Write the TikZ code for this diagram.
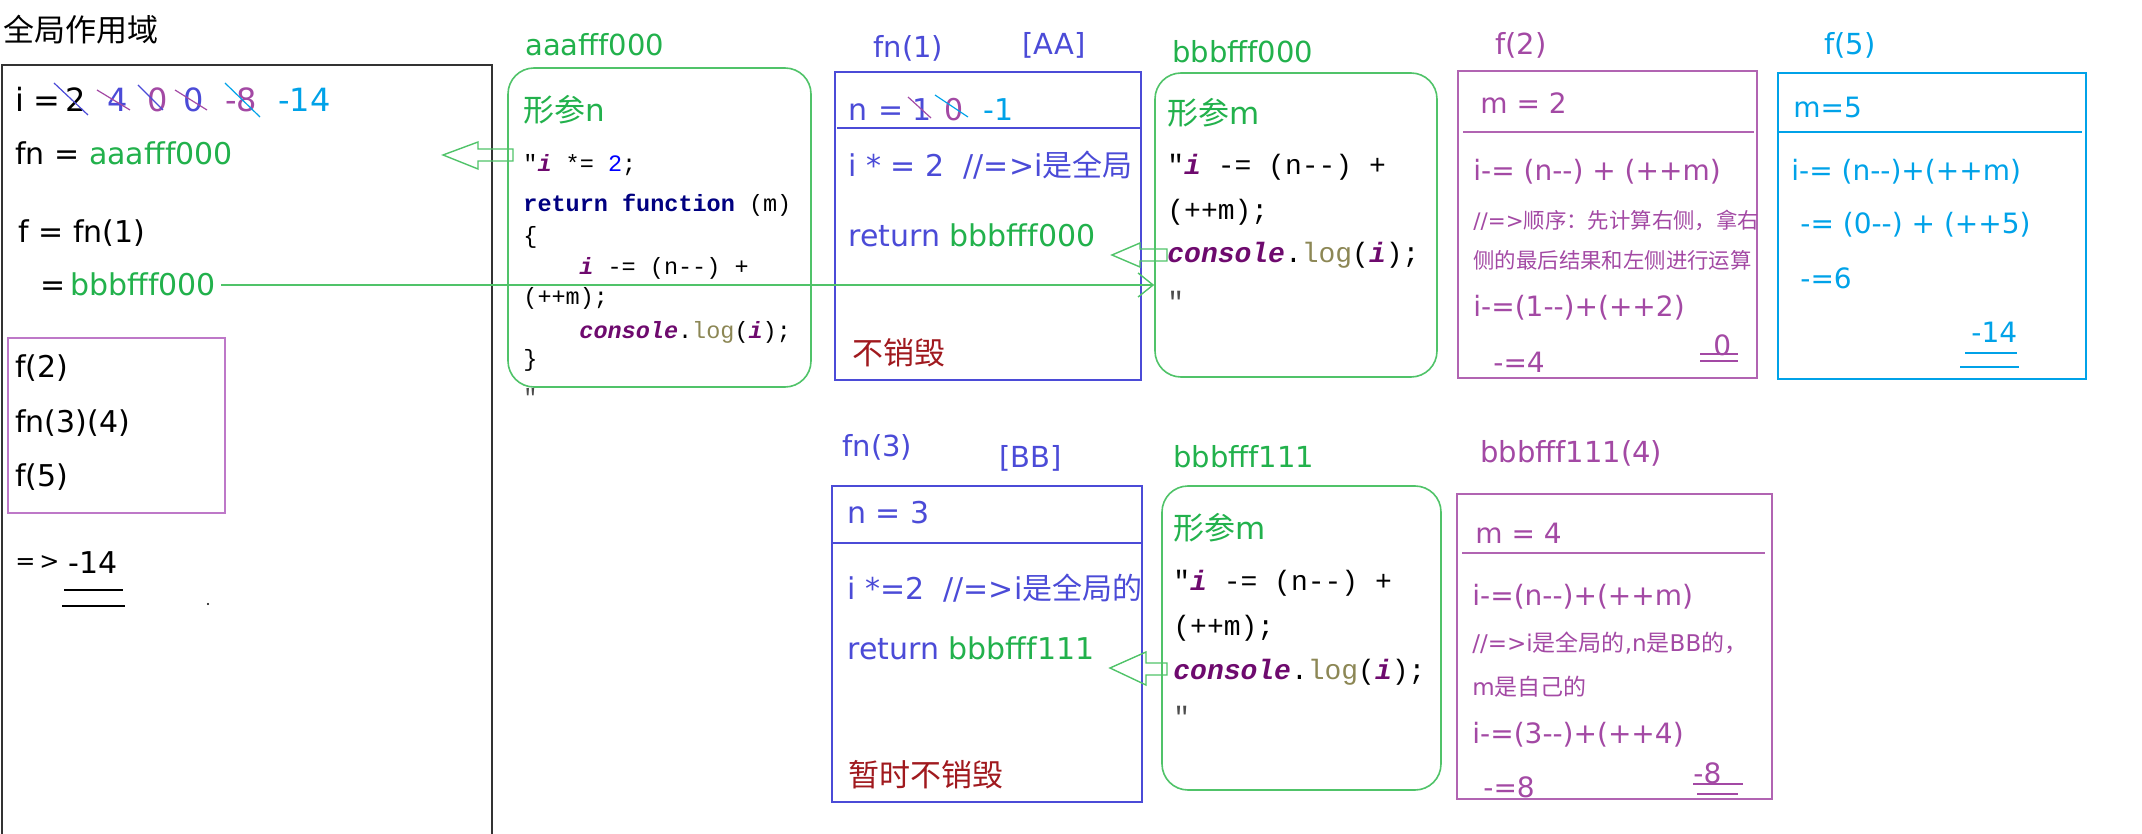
\documentclass[tikz,border=0pt]{standalone}
\usepackage{fontspec}
\setmainfont{DejaVu Sans}
\newfontfamily\cjkf{Noto Sans CJK SC}
\newfontfamily\codef{Liberation Mono}
\usetikzlibrary{arrows.meta,fit}
\definecolor{gr}{RGB}{34,177,76}
\definecolor{grl}{RGB}{80,195,105}
\definecolor{bl}{RGB}{75,75,215}
\definecolor{pu}{RGB}{163,73,164}
\definecolor{pul}{RGB}{190,120,200}
\definecolor{cy}{RGB}{0,162,232}
\definecolor{dr}{RGB}{160,25,30}
\definecolor{kw}{RGB}{0,0,128}
\definecolor{vr}{RGB}{110,10,110}
\definecolor{ol}{RGB}{140,135,85}
\definecolor{cdblue}{RGB}{0,0,255}
\newcommand\C[1]{{\cjkf #1}}
\newcommand\fsz[1]{\fontsize{#1}{#1}\selectfont}
\newcommand\kv{\textbf{\textit{\color{vr}i}}}
\newcommand\kcon{\textbf{\textit{\color{vr}console}}}
\newcommand\klog{{\color{ol}log}}
\begin{document}
\begin{tikzpicture}[x=0.5pt,y=-0.5pt,
  tx/.style={anchor=west,inner sep=0pt,font=\fsz{15pt}},
  tl/.style={anchor=west,inner sep=0pt,font=\fsz{14.5pt}},
  tb/.style={anchor=west,inner sep=0pt,font=\fsz{14pt}},
  tc/.style={anchor=west,inner sep=0pt,font=\fsz{10.7pt}},
  tcc/.style={anchor=west,inner sep=0pt,font=\fsz{11.5pt}},
  tk/.style={anchor=west,inner sep=0pt,font=\fsz{15.5pt}},
  row/.style={anchor=base west,inner sep=0pt,font=\fsz{16pt}},
  rowb/.style={anchor=base west,inner sep=0pt,font=\fsz{15pt}},
  cs/.style={anchor=west,inner sep=0pt,font=\codef\fsz{11.75pt}},
  cb/.style={anchor=west,inner sep=0pt,font=\codef\fsz{14pt}},
  boxline/.style={draw,line width=1pt,inner sep=0pt},
  rbox/.style={draw=grl,line width=0.8pt,rounded corners=13pt,inner sep=0pt},
  strk/.style={line width=0.6pt},
  dbl/.style={line width=0.8pt},
  hollow/.style={draw=grl,line width=0.7pt},
  link/.style={draw=grl,line width=0.7pt,-{Straight Barb[length=7.5pt,width=12pt]}}
]
\useasboundingbox (0,0) rectangle (2142,834);

% ---------- global scope ----------
\node[tk] (title) at (3,30) {\C{全局作用域}};
\draw[line width=1pt,black!80] (1.5,834) -- (1.5,65) -- (492,65) -- (492,834);

\node[row] (iname) at (15,112) {i};
\node[row] (ieq) at (33,112) {=};
\node[row] (v2) at (65,112) {2};
\node[row,text=bl] (v4) at (107,112) {4};
\node[row,text=pu] (v0a) at (147,112) {0};
\node[row,text=bl] (v0b) at (183,112) {0};
\node[row,text=pu] (v8) at (225,112) {-8};
\node[row,text=cy] (v14) at (278,112) {-14};
\draw[bl,strk] (54,83) -- (88,115);
\draw[pu,strk] (97,90) -- (130,110);
\draw[bl,strk] (138,85) -- (163,110);
\draw[pu,strk] (175,90) -- (207,110);
\draw[cy,strk] (225,83) -- (260,117);

\node[tx] (fnline) at (15,153) {fn = {\color{gr}aaafff000}};
\node[tx] (fline) at (18,233) {f = fn(1)};
\node[rowb] (feq) at (40,296) {=};
\node[rowb,text=gr] (bbbval) at (70,296) {bbbfff000};

\node[boxline,draw=pul,line width=0.8pt,fit={(8,338) (225,513)}] (callbox) {};
\node[tx] (c1) at (15,368) {f(2)};
\node[tx] (c2) at (15,423) {fn(3)(4)};
\node[tx] (c3) at (15,477) {f(5)};

\node[tx,font=\fsz{12pt}] (arrowres) at (15,563) {=\,>};
\node[tx] (res) at (68,563) {-14};
\draw[dbl] (64,590) -- (123,590);
\draw[dbl] (62,606) -- (125,606);
\fill (208,604) circle (1.2);

% ---------- aaafff000 heap ----------
\node[tl,text=gr] (aaalbl) at (525,45) {aaafff000};
\node[rbox,fit={(508,68) (811,387)}] (aaabox) {};
\node[tk,text=gr] (aaapar) at (523,110) {\C{形参}n};
\node[cs] (a1) at (523,165) {"\kv{} *= {\color{cdblue}2};};
\node[cs] (a2) at (523,205) {\textbf{\color{kw}return function} (m)};
\node[cs] (a3) at (523,237) {\{};
\node[cs] (a4) at (579,268) {\kv{} -= (n-{}-) +};
\node[cs] (a5) at (523,298) {(++m);};
\node[cs] (a6) at (579,332) {\kcon.\klog(\kv);};
\node[cs] (a7) at (523,360) {\}};
\node[cs,text=black!70] (a8) at (523,397) {"};

% ---------- fn(1) [AA] ----------
\node[tl,text=bl] (fn1lbl) at (873,48) {fn(1)};
\node[tl,text=bl] (aalbl) at (1022,45) {[AA]};
\node[boxline,draw=bl,fit={(835,72) (1141,380)}] (fn1box) {};
\draw[bl,line width=1pt] (837,128) -- (1141,128);
\node[rowb,text=bl] (n1name) at (848,121) {n};
\node[rowb,text=bl] (n1eq) at (878,121) {=};
\node[rowb,text=bl] (n1a) at (912,121) {1};
\node[rowb,text=pu] (n1b) at (944,121) {0};
\node[rowb,text=cy] (n1c) at (983,121) {-1};
\draw[pu,strk] (908,97) -- (931,118);
\draw[cy,strk] (935,95) -- (968,117);
\node[tx,text=bl] (fn1l1) at (848,165) {i * = 2~~//=>i\C{是全局}};
\node[tx,text=bl] (fn1l2) at (848,235) {return {\color{gr}bbbfff000}};
\node[tk,text=dr] (fn1l3) at (852,353) {\C{不销毁}};

% ---------- bbbfff000 heap ----------
\node[tl,text=gr] (bbb0lbl) at (1172,52) {bbbfff000};
\node[rbox,fit={(1155,73) (1437,377)}] (bbb0box) {};
\node[tk,text=gr] (bbb0par) at (1167,113) {\C{形参}m};
\node[cb] (b1) at (1167,167) {"\kv{} -= (n-{}-) +};
\node[cb] (b2) at (1167,212) {(++m);};
\node[cb] (b3) at (1167,255) {\kcon.\klog(\kv);};
\node[cb,text=black!70] (b4) at (1167,301) {"};

% ---------- f(2) ----------
\node[tl,text=pu] (f2lbl) at (1495,45) {f(2)};
\node[boxline,draw=pu!85,fit={(1458,71) (1757,378)}] (f2box) {};
\draw[pu!85,line width=1pt] (1463,132) -- (1754,132);
\node[tb,text=pu] (f2a) at (1480,103) {m = 2};
\node[tb,text=pu] (f2b) at (1473,172) {i-= (n-{}-) + (++m)};
\node[tc,text=pu] (f2c) at (1473,220) {//=>\C{顺序：先计算右侧，拿右}};
\node[tc,text=pu] (f2d) at (1473,260) {\C{侧的最后结果和左侧进行运算}};
\node[tb,text=pu] (f2e) at (1473,308) {i-=(1-{}-)+(++2)};
\node[tb,text=pu] (f2f) at (1493,362) {-=4};
\node[tb,text=pu] (f2g) at (1713,345) {0};
\draw[pu,dbl] (1700,354) -- (1738,354);
\draw[pu,dbl] (1700,361) -- (1738,361);

% ---------- f(5) ----------
\node[tl,text=cy] (f5lbl) at (1824,45) {f(5)};
\node[boxline,draw=cy,fit={(1778,73) (2086,379)}] (f5box) {};
\draw[cy,line width=1pt] (1778,132) -- (2082,132);
\node[tb,text=cy] (f5a) at (1793,107) {m=5};
\node[tb,text=cy] (f5b) at (1791,172) {i-= (n-{}-)+(++m)};
\node[tb,text=cy] (f5c) at (1800,225) {-= (0-{}-) + (++5)};
\node[tb,text=cy] (f5d) at (1800,278) {-=6};
\node[tb,text=cy] (f5e) at (1971,332) {-14};
\draw[cy,dbl] (1965,353) -- (2017,353);
\draw[cy,dbl] (1960,367) -- (2019,367);

% ---------- fn(3) [BB] ----------
\node[tl,text=bl] (fn3lbl) at (842,447) {fn(3)};
\node[tl,text=bl] (bblbl) at (999,458) {[BB]};
\node[boxline,draw=bl,fit={(832,486) (1142,802)}] (fn3box) {};
\draw[bl,line width=1pt] (832,543) -- (1142,543);
\node[tx,text=bl] (fn3a) at (847,513) {n = 3};
\node[tx,text=bl] (fn3b) at (847,588) {i *=2~~//=>i\C{是全局的}};
\node[tx,text=bl] (fn3c) at (847,648) {return {\color{gr}bbbfff111}};
\node[tk,text=dr] (fn3d) at (848,775) {\C{暂时不销毁}};

% ---------- bbbfff111 heap ----------
\node[tl,text=gr] (bbb1lbl) at (1173,457) {bbbfff111};
\node[rbox,fit={(1162,486) (1441,790)}] (bbb1box) {};
\node[tk,text=gr] (bbb1par) at (1173,528) {\C{形参}m};
\node[cb] (d1) at (1173,583) {"\kv{} -= (n-{}-) +};
\node[cb] (d2) at (1173,628) {(++m);};
\node[cb] (d3) at (1173,672) {\kcon.\klog(\kv);};
\node[cb,text=black!70] (d4) at (1173,716) {"};

% ---------- bbbfff111(4) ----------
\node[tl,text=pu] (b4lbl) at (1480,453) {bbbfff111(4)};
\node[boxline,draw=pu!85,fit={(1457,494) (1772,799)}] (b4box) {};
\draw[pu!85,line width=1pt] (1462,553) -- (1765,553);
\node[tb,text=pu] (b4a) at (1475,533) {m = 4};
\node[tb,text=pu] (b4b) at (1472,597) {i-=(n-{}-)+(++m)};
\node[tcc,text=pu] (b4c) at (1472,643) {//=>i\C{是全局的},n\C{是}BB\C{的，}};
\node[tcc,text=pu] (b4d) at (1472,687) {m\C{是自己的}};
\node[tb,text=pu] (b4e) at (1472,735) {i-=(3-{}-)+(++4)};
\node[tb,text=pu] (b4f) at (1483,787) {-=8};
\node[tb,text=pu] (b4g) at (1693,773) {-8};
\draw[pu,dbl] (1693,784) -- (1743,784);
\draw[pu,dbl] (1697,794) -- (1738,794);

% ---------- hollow arrows ----------
\draw[hollow] (443,155) -- (478,142) -- (478,149) -- (513,149) -- (513,161) -- (478,161) -- (478,169) -- cycle;
\draw[hollow] (1112,255) -- (1140,243) -- (1140,249) -- (1167,249) -- (1167,261) -- (1140,261) -- (1140,267) -- cycle;
\draw[hollow] (1110,668) -- (1146,652) -- (1146,663) -- (1167,663) -- (1167,675) -- (1146,675) -- (1146,685) -- cycle;

% ---------- link ----------
\draw[link,shorten <=2.5pt] (bbbval.east |- 0,285) -- (bbbval.east |- 0,285 -| bbb0box.west);
\end{tikzpicture}
\end{document}
